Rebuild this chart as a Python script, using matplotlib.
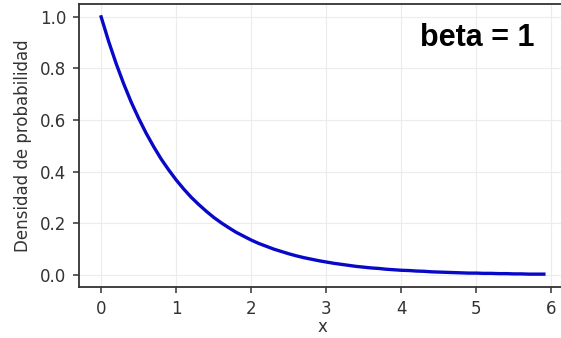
import matplotlib
matplotlib.use("Agg")
import matplotlib.pyplot as plt

# valores (densidad exponencial, beta = 1)
x_vals = [0.0, 0.1, 0.2, 0.3, 0.4, 0.5, 0.6, 0.7, 0.8, 0.9,
          1.0, 1.1, 1.2, 1.3, 1.4, 1.5, 1.6, 1.7, 1.8, 1.9,
          2.0, 2.1, 2.2, 2.3, 2.4, 2.5, 2.6, 2.7, 2.8, 2.9,
          3.0, 3.1, 3.2, 3.3, 3.4, 3.5, 3.6, 3.7, 3.8, 3.9,
          4.0, 4.1, 4.2, 4.3, 4.4, 4.5, 4.6, 4.7, 4.8, 4.9,
          5.0, 5.1, 5.2, 5.3, 5.4, 5.5, 5.6, 5.7, 5.8, 5.9]
densidad = [1.000, 0.905, 0.819, 0.741, 0.670, 0.607, 0.549, 0.497, 0.449, 0.407,
            0.368, 0.333, 0.301, 0.273, 0.247, 0.223, 0.202, 0.183, 0.165, 0.150,
            0.135, 0.122, 0.111, 0.100, 0.091, 0.082, 0.074, 0.067, 0.061, 0.055,
            0.050, 0.045, 0.041, 0.037, 0.033, 0.030, 0.027, 0.025, 0.022, 0.020,
            0.018, 0.017, 0.015, 0.014, 0.012, 0.011, 0.010, 0.009, 0.008, 0.007,
            0.007, 0.006, 0.006, 0.005, 0.005, 0.004, 0.004, 0.003, 0.003, 0.003]
x_ticks = [0, 1, 2, 3, 4, 5, 6]
y_ticks = [0.0, 0.2, 0.4, 0.6, 0.8, 1.0]
etiqueta = "beta = 1"

W, H = 561, 338
fig = plt.figure(figsize=(W / 100, H / 100), dpi=100)
# los ejes se salen un poco por la derecha, como en la imagen original
ax = fig.add_axes([79 / W, 1 - 287 / H, 487 / W, 283 / H])

ax.plot(x_vals, densidad, color='#0808c8', linewidth=2.4)

ax.set_xticks(x_ticks)
ax.set_yticks(y_ticks)
ax.set_yticklabels(["%.1f" % v for v in y_ticks])
ax.tick_params(labelsize=12, colors='#333333', length=4, width=1.1, pad=5)
ax.grid(True, color='#ececec', linewidth=0.8)
ax.set_axisbelow(True)
for s in ax.spines.values():
    s.set_color('#333333')
    s.set_linewidth(1.3)

ax.set_xlabel("x", fontsize=12, color='#333333', labelpad=0)
ax.set_ylabel("Densidad de probabilidad", fontsize=12, color='#333333',
              labelpad=6)

ax.text(0.936, 0.85, etiqueta, transform=ax.transAxes, ha='right',
        va='baseline', fontsize=22, fontweight='bold',
        family='Liberation Sans')

fig.savefig("out.png", dpi=100)
